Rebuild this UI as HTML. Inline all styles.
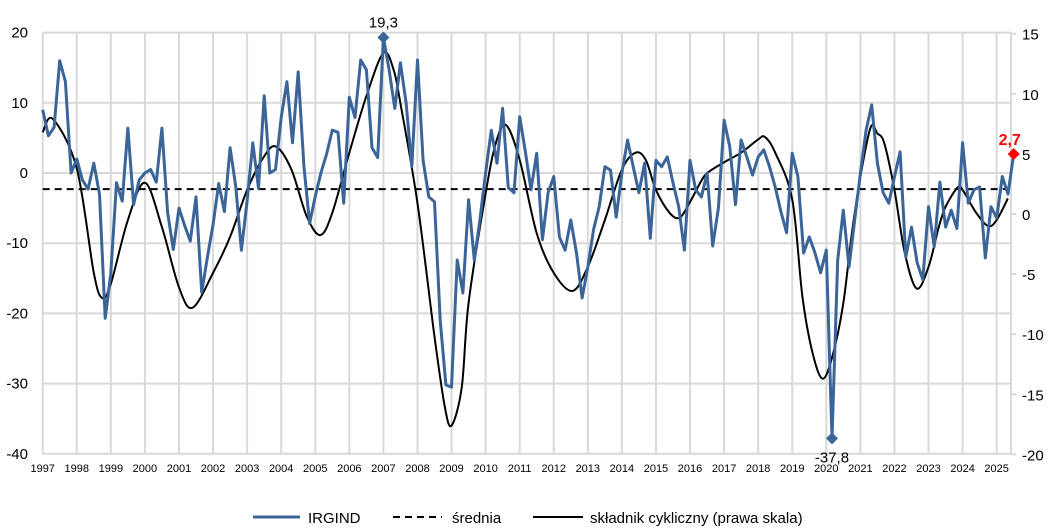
<!DOCTYPE html>
<html><head><meta charset="utf-8">
<style>
html,body{margin:0;padding:0;background:#fff;}
svg{display:block;font-family:"Liberation Sans",sans-serif;}
</style></head>
<body>
<svg id="chart" width="1063" height="531" viewBox="0 0 1063 531" xmlns="http://www.w3.org/2000/svg">
<g id="grid"></g>
<g id="axes"></g>
<g id="series"></g>
<g id="legend">
  <line x1="253" y1="517" x2="300" y2="517" stroke="#3B6598" stroke-width="3"/>
  <text x="308" y="523" font-size="15" fill="#000">IRGIND</text>
  <line x1="393" y1="517" x2="442" y2="517" stroke="#000" stroke-width="2" stroke-dasharray="7,5"/>
  <text x="452" y="523" font-size="15" fill="#000">średnia</text>
  <line x1="533" y1="517" x2="583" y2="517" stroke="#000" stroke-width="2"/>
  <text x="590" y="523" font-size="15" fill="#000">składnik cykliczny (prawa skala)</text>
</g>
</svg>
<script>
const startYear = 1997;
const stepYears = 1/6;
const irgindValues = [
 9,5.3,6.5,16,13,0,
 2,-1,-2.3,1.4,-3,-20.7,
 -14.3,-1.4,-4,6.4,-4.5,-1,
 0,0.5,-1.3,6.4,-5.6,-10.9,
 -5,-7.5,-9.7,-3.4,-17,-12,
 -7.3,-1.5,-5.5,3.6,-2,-11,
 -4,4.3,-2.2,11,0,0.5,
 7.9,13,4.3,14.4,1,-7.2,
 -3.3,0,2.7,6.1,5.8,-4.3,
 10.8,7.9,16.1,14.7,3.6,2.2,
 19.3,14.7,9.2,15.7,10,0.9,
 16.1,1.8,-3.4,-4.1,-21,-30.2,
 -30.5,-12.4,-17.1,-3.8,-12.4,-6.7,
 0,6.1,1.4,9.2,-2.1,-2.8,
 8,3,-2.4,2.8,-9.5,-2.8,
 -0.5,-9.1,-11,-6.7,-11.4,-17.8,
 -13.4,-8.1,-4.8,0.9,0.4,-6.3,
 0,4.7,0.9,-2.8,1.4,-9.3,
 1.8,0.9,2.3,-1.4,-4.8,-11,
 1.8,-2.4,-3.4,0,-10.4,-5,
 7.5,3.7,-4.5,4.7,2.3,-0.3,
 2.3,3.3,0.9,-2,-5.5,-8.5,
 2.8,-0.5,-11.4,-9.1,-11.4,-14.2,
 -11,-37.8,-12.4,-5.3,-13.4,-6.7,
 0,6.1,9.7,1.4,-2.8,-4.3,
 -0.5,3,-12,-7.7,-12.8,-15.2,
 -4.8,-10.5,-1.3,-7.7,-5.3,-7.9,
 4.3,-4.3,-2.4,-2,-12.1,-4.8,
 -6.4,-0.5,-3,2.7
];
const cycYears = [1997.0,1997.3,1998.0,1998.5,1998.75,1999.0,1999.5,2000.0,2000.5,2001.0,2001.4,2002.0,2002.5,2003.0,2003.5,2003.85,2004.3,2004.75,2005.15,2005.5,2006.0,2006.5,2007.0,2007.3,2007.5,2008.0,2008.5,2008.8,2009.0,2009.3,2009.5,2010.0,2010.3,2010.6,2011.0,2011.5,2012.0,2012.55,2013.0,2013.5,2014.0,2014.4,2014.7,2015.0,2015.4,2015.7,2016.0,2016.3,2016.5,2017.0,2017.5,2018.0,2018.2,2018.5,2019.0,2019.3,2019.6,2019.9,2020.2,2020.5,2020.75,2021.0,2021.3,2021.5,2021.7,2022.0,2022.3,2022.65,2023.0,2023.3,2023.5,2023.85,2024.0,2024.4,2024.75,2025.0,2025.33];
const cycValues = [6.8,7.9,3.8,-4.9,-7,-5.8,-0.5,2.6,-1.1,-6.1,-7.8,-4.9,-1.9,2,4.8,5.6,3.7,-0.2,-1.75,0.1,5.1,9.8,13.4,12,9.2,0.9,-10.2,-16,-17.6,-14.4,-7.4,1.7,5.9,7.4,4.5,-1.6,-4.9,-6.4,-4.4,-0.5,3.7,5.1,4.5,2,0.1,-0.3,1,2.6,3.4,4.3,5.1,6.2,6.4,5.1,1.2,-6.9,-11.6,-13.7,-11.6,-7.4,-1.6,3.1,7.2,6.7,5.9,2,-3.2,-6.2,-4.4,-1.1,0.6,2.2,2,0.1,-1,-0.5,1.3];
const meanValue = -2.3;
const leftTicks = [20,10,0,-10,-20,-30,-40];
const rightTicks = [15,10,5,0,-5,-10,-15,-20];
const yearLabels = ["1997","1998","1999","2000","2001","2002","2003","2004","2005","2006","2007","2008","2009","2010","2011","2012","2013","2014","2015","2016","2017","2018","2019","2020","2021","2022","2023","2024","2025"];
const maxLabel = "19,3";
const minLabel = "-37,8";
const lastLabel = "2,7";

const NS = "http://www.w3.org/2000/svg";
const X0 = 42.7, PX_YEAR = 34.07, RIGHT = 1011;
function xOf(t){ return X0 + (t - 1997) * PX_YEAR; }
function yL(v){ return 173 - v * 7.02; }
function yR(v){ return 214 - v * 12.02; }
function mk(tag, attrs, parent){ const e = document.createElementNS(NS, tag); for (const k in attrs) e.setAttribute(k, attrs[k]); parent.appendChild(e); return e; }

const grid = document.getElementById('grid');
const axes = document.getElementById('axes');
const series = document.getElementById('series');

leftTicks.forEach(v => {
  const l = mk('line', {x1: X0, x2: RIGHT, y1: yL(v), y2: yL(v), stroke: '#d9d9d9', 'stroke-width': 2}, grid);
  
  
  const t = mk('text', {x: 28, y: yL(v) + 5, 'text-anchor': 'end', 'font-size': 15, fill: '#000'}, axes);
  t.textContent = String(v);
  
  
});
yearLabels.forEach((lab, i) => {
  const x = xOf(Number(lab));
  const l = mk('line', {x1: x, x2: x, y1: 33, y2: 454, stroke: '#d9d9d9', 'stroke-width': 2}, grid);
  
  
  const t = mk('text', {x: x, y: 472, 'text-anchor': 'middle', 'font-size': 11, fill: '#000'}, axes);
  t.textContent = lab;
  
  
});
const ra = mk('line', {x1: RIGHT, x2: RIGHT, y1: 33, y2: 454, stroke: '#d9d9d9', 'stroke-width': 2}, grid);


rightTicks.forEach(v => {
  const tk = mk('line', {x1: RIGHT, x2: RIGHT + 5, y1: yR(v), y2: yR(v), stroke: '#d9d9d9', 'stroke-width': 2}, axes);
  
  
  const t = mk('text', {x: 1022, y: yR(v) + 6, 'text-anchor': 'start', 'font-size': 15, fill: '#000'}, axes);
  t.textContent = String(v);
  
  
});

// mean line
const ml = mk('line', {x1: X0, x2: xOf(startYear + (irgindValues.length - 1) * stepYears) - 6, y1: yL(meanValue), y2: yL(meanValue), stroke: '#000', 'stroke-width': 2, 'stroke-dasharray': '7,5'}, series);



// cyclical component (smooth catmull-rom)
const cp = cycYears.map((t, i) => [xOf(t), yR(cycValues[i])]);
let d = 'M' + cp[0][0] + ',' + cp[0][1];
for (let i = 0; i < cp.length - 1; i++) {
  const p0 = cp[Math.max(0, i - 1)], p1 = cp[i], p2 = cp[i + 1], p3 = cp[Math.min(cp.length - 1, i + 2)];
  const c1 = [p1[0] + (p2[0] - p0[0]) / 6, p1[1] + (p2[1] - p0[1]) / 6];
  const c2 = [p2[0] - (p3[0] - p1[0]) / 6, p2[1] - (p3[1] - p1[1]) / 6];
  d += ' C' + c1.join(',') + ' ' + c2.join(',') + ' ' + p2.join(',');
}
const cyc = mk('path', {d: d, fill: 'none', stroke: '#000', 'stroke-width': 2}, series);



// IRGIND line
const pts = irgindValues.map((v, i) => xOf(startYear + i * stepYears).toFixed(1) + ',' + yL(v).toFixed(1)).join(' ');
const irg = mk('polyline', {points: pts, fill: 'none', stroke: '#3B6598', 'stroke-width': 3, 'stroke-linejoin': 'round'}, series);



function diamond(t, v, color, name){
  const x = xOf(t), y = yL(v);
  const p = mk('polygon', {points: `${x},${y-6} ${x+6},${y} ${x},${y+6} ${x-6},${y}`, fill: color}, series);
  
  
  return [x, y];
}
let iMax = 0, iMin = 0;
irgindValues.forEach((v, i) => { if (v > irgindValues[iMax]) iMax = i; if (v < irgindValues[iMin]) iMin = i; });
const iLast = irgindValues.length - 1;
const pMax = diamond(startYear + iMax * stepYears, irgindValues[iMax], '#3B6598', 'max-marker');
const pMin = diamond(startYear + iMin * stepYears, irgindValues[iMin], '#3B6598', 'min-marker');
const pLast = diamond(startYear + iLast * stepYears, irgindValues[iLast], '#ff0000', 'last-marker');
const tMax = mk('text', {x: pMax[0], y: pMax[1] - 10, 'text-anchor': 'middle', 'font-size': 15, fill: '#000'}, series);
tMax.textContent = maxLabel;


const tMin = mk('text', {x: pMin[0], y: pMin[1] + 24, 'text-anchor': 'middle', 'font-size': 15, fill: '#000'}, series);
tMin.textContent = minLabel;


const tLast = mk('text', {x: pLast[0] - 4, y: pLast[1] - 9, 'text-anchor': 'middle', 'font-size': 16, 'font-weight': 'bold', fill: '#ff0000'}, series);
tLast.textContent = lastLabel;


</script>
</body></html>
